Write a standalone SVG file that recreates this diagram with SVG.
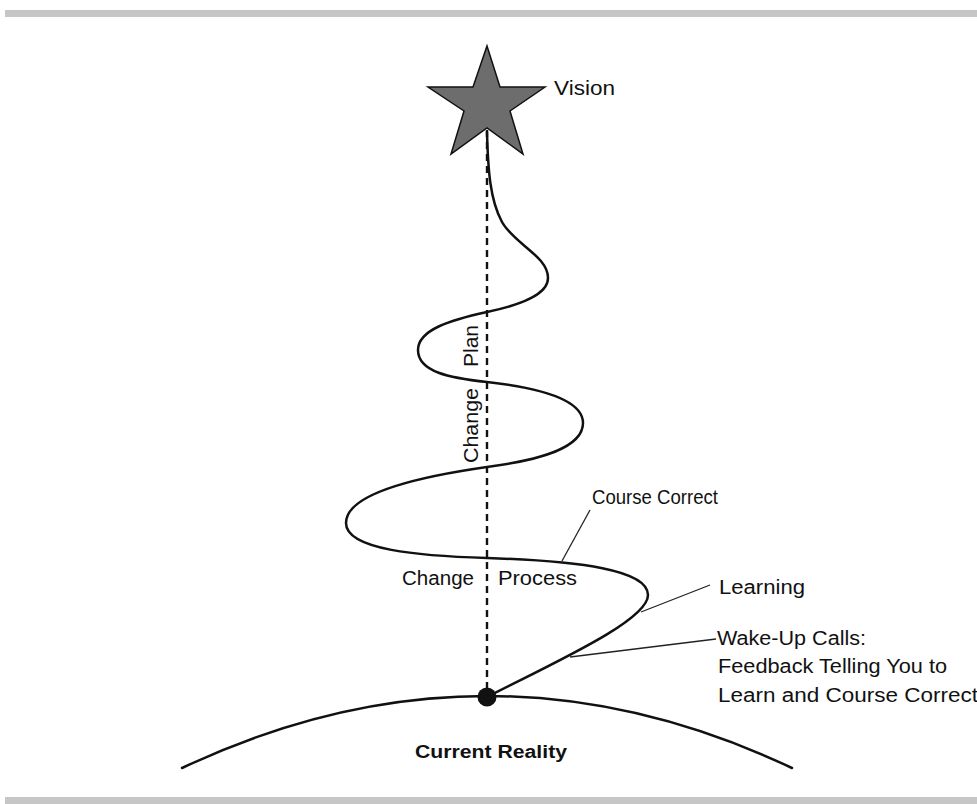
<svg xmlns="http://www.w3.org/2000/svg" width="977" height="804" viewBox="0 0 977 804">
<style>
  .lbl { font-family: "Liberation Sans", Arial, sans-serif; font-size: 20px; fill: #111; }
  .bold { font-family: "Liberation Sans", Arial, sans-serif; font-size: 18px; font-weight: bold; fill: #111; }
  .curve { fill: none; stroke: #111; stroke-width: 2.5; stroke-linecap: round; }
  .leader { fill: none; stroke: #222; stroke-width: 1.3; }
  .dash { fill: none; stroke: #111; stroke-width: 2.4; stroke-dasharray: 7 5; }
  .bar { fill: #c6c6c6; }
</style>
<rect width="977" height="804" fill="#ffffff"/>
<rect class="bar" x="5" y="10" width="972" height="7"/>
<rect class="bar" x="5" y="797" width="972" height="7"/>

<g id="connectors">
  <line class="dash" x1="487" y1="130" x2="487" y2="690"/>
  <path id="spiral" class="curve" d="M487,132 C488,170 490,200 502,222 C514,244 548,256 548,278 C548,295 520,305 487,312 C450,320 418,330 418,350 C418,372 450,378 487,382 C540,388 583,400 583,423 C583,448 540,460 487,467 C410,478 346,495 346,523 C346,550 420,556 487,558 C580,561 648,570 648,595 C648,620 560,660 487,697"/>
  <line class="leader" x1="562" y1="561" x2="590" y2="510"/>
  <line class="leader" x1="641" y1="612" x2="710" y2="585"/>
  <line class="leader" x1="570" y1="657" x2="716" y2="639"/>
</g>

<g id="vision">
  <polygon points="487,46 500,87 545,87 510,111 523,154 487,128 451,154 464,111 428,87 473,87" fill="#6d6d6d" stroke="#111" stroke-width="1.5" stroke-linejoin="miter"/>
  <text class="lbl" x="554" y="95" textLength="61" lengthAdjust="spacingAndGlyphs">Vision</text>
</g>

<g id="change-plan">
  <text class="lbl" transform="translate(478,463) rotate(-90)" textLength="75" lengthAdjust="spacingAndGlyphs">Change</text>
  <text class="lbl" transform="translate(478,367) rotate(-90)" textLength="42" lengthAdjust="spacingAndGlyphs">Plan</text>
</g>

<g id="change-process">
  <text class="lbl" x="402" y="585" textLength="72" lengthAdjust="spacingAndGlyphs">Change</text>
  <text class="lbl" x="498" y="585" textLength="79" lengthAdjust="spacingAndGlyphs">Process</text>
</g>

<g id="course-correct">
  <text class="lbl" x="592" y="504" textLength="126" lengthAdjust="spacingAndGlyphs">Course Correct</text>
</g>

<g id="learning">
  <text class="lbl" x="719" y="594" textLength="86" lengthAdjust="spacingAndGlyphs">Learning</text>
</g>

<g id="wake-up-calls">
  <text class="lbl" x="717" y="645" textLength="149" lengthAdjust="spacingAndGlyphs">Wake-Up Calls:</text>
  <text class="lbl" x="718" y="673" textLength="229" lengthAdjust="spacingAndGlyphs">Feedback Telling You to</text>
  <text class="lbl" x="718" y="702" textLength="260" lengthAdjust="spacingAndGlyphs">Learn and Course Correct</text>
</g>

<g id="current-reality">
  <path class="curve" d="M182,768 Q487,624 792,768"/>
  <circle cx="487" cy="697" r="9.5" fill="#111"/>
  <text class="bold" x="491" y="758" text-anchor="middle" textLength="152" lengthAdjust="spacingAndGlyphs">Current Reality</text>
</g>
</svg>
